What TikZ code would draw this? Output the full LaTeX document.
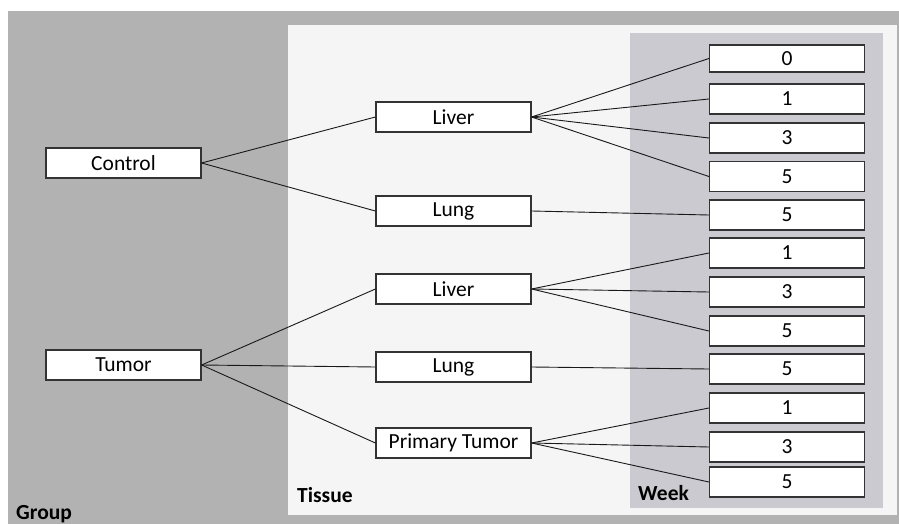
\documentclass[tikz,border=0pt]{standalone}
\usepackage{fontspec}
\setmainfont{Carlito}
\begin{document}
\begin{tikzpicture}[x=1pt,y=-1pt,
  box/.style={draw=black!80,line width=1.2pt,fill=white,minimum width=155pt,minimum height=30pt,inner sep=0pt,font=\fontsize{21.5}{25}\selectfont},
  link/.style={draw=black!90,line width=0.9pt},
  panellabel/.style={font=\fontsize{21.5}{25}\selectfont\bfseries,anchor=base west,inner sep=0pt}]
\useasboundingbox (0,0) rectangle (899,524);
\fill[white] (0,0) rectangle (899,524);
\fill[black!30] (8,11) rectangle (899,524);
\fill[black!4] (288,25) rectangle (897,515);
\fill[fill={rgb,255:red,202;green,202;blue,208}] (630,33) rectangle (883,508);
% group
\node[box] (control) at (123.5,163) {Control};
\node[box] (tumor) at (123.5,365) {Tumor};
% tissue
\node[box] (liverA) at (453.5,117) {Liver};
\node[box] (lungA) at (453.5,211) {Lung};
\node[box] (liverB) at (453.5,289) {Liver};
\node[box] (lungB) at (453.5,367) {Lung};
\node[box] (primary) at (453.5,443) {Primary Tumor};
% week
\node[box,minimum height=27pt] (w0) at (787,58.5) {0};
\node[box] (w1) at (787,99) {1};
\node[box] (w3) at (787,138) {3};
\node[box] (w5) at (787,176.5) {5};
\node[box] (w5b) at (787,215) {5};
\node[box] (w1b) at (787,253) {1};
\node[box] (w3b) at (787,292) {3};
\node[box] (w5c) at (787,331) {5};
\node[box] (w5d) at (787,369) {5};
\node[box] (w1c) at (787,408) {1};
\node[box] (w3c) at (787,447) {3};
\node[box] (w5e) at (787,482) {5};
% labels
\node[panellabel] (lgroup) at (16,519) {Group};
\node[panellabel] (ltissue) at (297,502) {Tissue};
\node[panellabel] (lweek) at (638,500) {Week};
% links
\foreach \a/\b in {control/liverA,control/lungA,tumor/liverB,tumor/lungB,tumor/primary,
  liverA/w0,liverA/w1,liverA/w3,liverA/w5,lungA/w5b,liverB/w1b,liverB/w3b,liverB/w5c,lungB/w5d,
  primary/w1c,primary/w3c,primary/w5e}
  \draw[link] (\a.east) -- (\b.west);
\end{tikzpicture}
\end{document}
